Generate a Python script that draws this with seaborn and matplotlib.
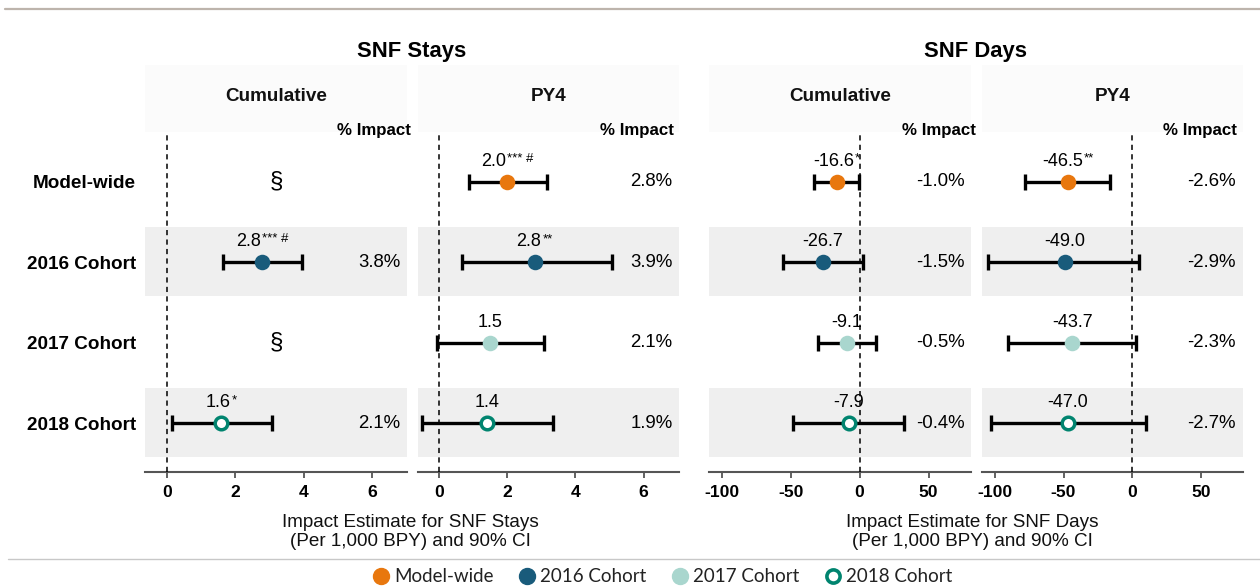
import numpy as np
import pandas as pd
import matplotlib
matplotlib.use("Agg")
import matplotlib.pyplot as plt
import seaborn as sns
from matplotlib.lines import Line2D
from matplotlib.offsetbox import TextArea, HPacker, AnnotationBbox

# ---------------- data ----------------
rows = ["Model-wide", "2016 Cohort", "2017 Cohort", "2018 Cohort"]
colors = {"Model-wide": "#E8770E", "2016 Cohort": "#195B7B",
          "2017 Cohort": "#A9D6CE", "2018 Cohort": "#00846F"}

stays_cum_est = [np.nan, 2.8, np.nan, 1.6]
stays_cum_lo = [np.nan, 1.65, np.nan, 0.16]
stays_cum_hi = [np.nan, 3.97, np.nan, 3.07]
stays_cum_lbl = ["§", "2.8", "§", "1.6"]
stays_cum_sig = ["", "*** #", "", "*"]
stays_cum_pct = ["", "3.8%", "", "2.1%"]

stays_py4_est = [2.0, 2.8, 1.5, 1.4]
stays_py4_lo = [0.87, 0.68, -0.05, -0.51]
stays_py4_hi = [3.16, 5.07, 3.07, 3.33]
stays_py4_lbl = ["2.0", "2.8", "1.5", "1.4"]
stays_py4_sig = ["*** #", "**", "", ""]
stays_py4_pct = ["2.8%", "3.9%", "2.1%", "1.9%"]

days_cum_est = [-16.6, -26.7, -9.1, -7.9]
days_cum_lo = [-33.0, -55.8, -30.4, -48.0]
days_cum_hi = [-0.5, 2.6, 11.9, 32.4]
days_cum_lbl = ["-16.6", "-26.7", "-9.1", "-7.9"]
days_cum_sig = ["*", "", "", ""]
days_cum_pct = ["-1.0%", "-1.5%", "-0.5%", "-0.4%"]

days_py4_est = [-46.5, -49.0, -43.7, -47.0]
days_py4_lo = [-77.7, -104.7, -90.7, -103.1]
days_py4_hi = [-16.1, 4.7, 3.1, 9.8]
days_py4_lbl = ["-46.5", "-49.0", "-43.7", "-47.0"]
days_py4_sig = ["**", "", "", ""]
days_py4_pct = ["-2.6%", "-2.9%", "-2.3%", "-2.7%"]

stays_ticks = [0, 2, 4, 6]
days_ticks = [-100, -50, 0, 50]

panels = [
    dict(title="Cumulative", est=stays_cum_est, lo=stays_cum_lo, hi=stays_cum_hi,
         lbl=stays_cum_lbl, sig=stays_cum_sig, pct=stays_cum_pct,
         xlim=(-0.625, 7.03), ticks=stays_ticks, hdr_x=6.06, pct_x=6.22, sec_x=3.22,
         px=(145.4, 407.1)),
    dict(title="PY4", est=stays_py4_est, lo=stays_py4_lo, hi=stays_py4_hi,
         lbl=stays_py4_lbl, sig=stays_py4_sig, pct=stays_py4_pct,
         xlim=(-0.625, 7.03), ticks=stays_ticks, hdr_x=5.80, pct_x=6.23, sec_x=3.22,
         px=(417.9, 678.6)),
    dict(title="Cumulative", est=days_cum_est, lo=days_cum_lo, hi=days_cum_hi,
         lbl=days_cum_lbl, sig=days_cum_sig, pct=days_cum_pct,
         xlim=(-109.3, 80.6), ticks=days_ticks, hdr_x=57.3, pct_x=58.6, sec_x=0,
         px=(708.9, 970.7)),
    dict(title="PY4", est=days_py4_est, lo=days_py4_lo, hi=days_py4_hi,
         lbl=days_py4_lbl, sig=days_py4_sig, pct=days_py4_pct,
         xlim=(-109.3, 80.6), ticks=days_ticks, hdr_x=49.3, pct_x=57.8, sec_x=0,
         px=(982.0, 1243.0)),
]

# ---------------- style ----------------
sns.set_theme(style="white")
plt.rcParams["font.family"] = ["Liberation Sans", "DejaVu Sans"]

W, H = 1260, 587
fig = plt.figure(figsize=(W / 100, H / 100), dpi=100)
fig.patch.set_facecolor("white")

ax_top, ax_bot = 131.7, 471.5
strip_top = 65.0
ypos = np.arange(len(rows))

for i, p in enumerate(panels):
    x0, x1 = p["px"]
    ax = fig.add_axes([x0 / W, 1 - ax_bot / H, (x1 - x0) / W, (ax_bot - ax_top) / H])
    ax.set_facecolor("white")
    ax.set_xlim(*p["xlim"])
    ax.set_ylim(3.6, -0.62)

    # alternating bands
    for r in [1, 3]:
        ax.axhspan(r - 0.434, r + 0.416, color="#EFEFEF", zorder=0, lw=0)

    df = pd.DataFrame({"row": rows, "y": ypos, "est": p["est"], "lo": p["lo"], "hi": p["hi"]})
    ok = df.dropna()
    ax.errorbar(ok["est"], ok["y"], xerr=[ok["est"] - ok["lo"], ok["hi"] - ok["est"]],
                fmt="none", ecolor="black", elinewidth=2.4, capsize=6.0, capthick=2.4, zorder=2)

    for _, r in ok.iterrows():
        if r["row"] == "2018 Cohort":
            sns.scatterplot(x=[r["est"]], y=[r["y"]], ax=ax, color="white", s=82,
                            edgecolor=colors[r["row"]], linewidth=2.5, zorder=3, legend=False)
        else:
            sns.scatterplot(x=[r["est"]], y=[r["y"]], ax=ax, color=colors[r["row"]], s=125,
                            edgecolor=colors[r["row"]], linewidth=0, zorder=3, legend=False)

    for j in range(len(rows)):
        if np.isnan(p["est"][j]):
            if p["lbl"][j] == "§":
                ax.text(p["sec_x"], ypos[j], "§", ha="center", va="center",
                        fontsize=17.5, color="black", zorder=4)
        else:
            children = [TextArea(p["lbl"][j], textprops=dict(fontsize=13, color="black"))]
            if p["sig"][j]:
                children.append(TextArea(p["sig"][j], textprops=dict(fontsize=9.5, color="black")))
            box = HPacker(children=children, align="top", pad=0, sep=0.6)
            ab = AnnotationBbox(box, (p["est"][j], ypos[j] - 0.255), xycoords="data",
                                frameon=False, box_alignment=(0.5, 0.5), pad=0,
                                annotation_clip=False, zorder=4)
            ax.add_artist(ab)
        if p["pct"][j]:
            ax.text(p["pct_x"], ypos[j], p["pct"][j], ha="center", va="center",
                    fontsize=13.4, color="black", zorder=4)

    ax.text(p["hdr_x"], -0.64, "% Impact", ha="center", va="center", fontsize=12.2,
            fontweight="bold", color="black", clip_on=False, zorder=6)

    ax.axvline(0, color="black", lw=1.1, ls=(0, (3.4, 2.8)), zorder=5)

    for s in ["top", "right", "left"]:
        ax.spines[s].set_visible(False)
    ax.spines["bottom"].set_color("#555555")
    ax.spines["bottom"].set_linewidth(1.5)
    ax.set_xticks(p["ticks"])
    ax.set_xticklabels([str(t) for t in p["ticks"]], fontweight="bold", fontsize=12.6)
    ax.tick_params(axis="x", bottom=True, length=4, width=1.3, color="#555555", pad=6,
                   labelcolor="black")
    if i == 0:
        ax.set_yticks(ypos)
        ax.set_yticklabels(rows, fontweight="bold", fontsize=13.6)
        ax.tick_params(axis="y", left=False, length=0, pad=6.8, labelcolor="black")
    else:
        ax.set_yticks([])
    ax.grid(False)

    # strip
    sax = fig.add_axes([x0 / W, 1 - ax_top / H, (x1 - x0) / W, (ax_top - strip_top) / H])
    sax.set_facecolor("#FBFBFB")
    sax.set_xticks([]); sax.set_yticks([])
    for s in sax.spines.values():
        s.set_visible(False)
    sax.text(0.5, 0.525, p["title"], ha="center", va="center", fontsize=13.6,
             fontweight="bold", color="#111111", transform=sax.transAxes)
    sax.set_zorder(-1)

# super titles
fig.text(412 / W, 1 - 51 / H, "SNF Stays", ha="center", va="center", fontsize=15.8,
         fontweight="bold", color="black")
fig.text(976 / W, 1 - 51 / H, "SNF Days", ha="center", va="center", fontsize=15.8,
         fontweight="bold", color="black")

# axis titles
fig.text(410 / W, 1 - 532 / H, "Impact Estimate for SNF Stays\n(Per 1,000 BPY) and 90% CI",
         ha="center", va="center", fontsize=13.6, linespacing=1.15, color="#111111")
fig.text(972 / W, 1 - 532 / H, "Impact Estimate for SNF Days\n(Per 1,000 BPY) and 90% CI",
         ha="center", va="center", fontsize=13.6, linespacing=1.15, color="#111111")

# decorative rules
fig.add_artist(Line2D([5 / W, 1], [1 - 8.5 / H, 1 - 8.5 / H], color="#BDB4AC", lw=1.6))
fig.add_artist(Line2D([8 / W, 1], [1 - 558.5 / H, 1 - 558.5 / H], color="#C8C8C8", lw=1.0))

# legend
handles = []
for r in rows:
    if r == "2018 Cohort":
        handles.append(Line2D([], [], ls="", marker="o", markersize=9.5, markerfacecolor="white",
                              markeredgecolor=colors[r], markeredgewidth=2.6, label=r))
    else:
        handles.append(Line2D([], [], ls="", marker="o", markersize=11.5,
                              markerfacecolor=colors[r], markeredgecolor=colors[r], label=r))
leg = fig.legend(handles=handles, loc="center", bbox_to_anchor=(661 / W, 1 - 576.7 / H),
                 ncol=4, frameon=False, handletextpad=0.1, columnspacing=1.2,
                 handlelength=1.2, prop={"family": "Lato", "size": 13.5})
for t in leg.get_texts():
    t.set_color("#222222")

fig.savefig("out.png", dpi=100, facecolor="white")
